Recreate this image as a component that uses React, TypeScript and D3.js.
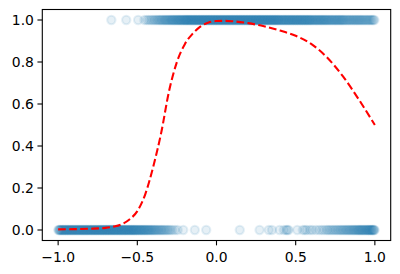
import React from "react";
import * as d3 from "d3";

const xTicks = [-1.0, -0.5, 0.0, 0.5, 1.0];
const yTicks = [0.0, 0.2, 0.4, 0.6, 0.8, 1.0];

// x positions (in thousandths) of observations with label 0
const class0X = [
  -999, -995, -991, -987, -984, -979, -975, -971, -967, -964, -959, -955, -951, -948, -943, -939, -935, -932, -927,
  -923, -919, -916, -911, -907, -903, -900, -895, -891, -887, -884, -879, -875, -871, -868, -863, -859, -855, -852,
  -847, -843, -839, -836, -831, -827, -823, -820, -815, -811, -807, -804, -799, -795, -791, -788, -783, -779, -775,
  -772, -767, -763, -759, -756, -751, -747, -743, -740, -735, -731, -727, -724, -719, -715, -711, -708, -703, -699,
  -695, -692, -687, -683, -679, -676, -671, -667, -663, -660, -655, -651, -647, -644, -639, -635, -631, -628, -623,
  -619, -615, -612, -607, -603, -599, -596, -591, -587, -583, -580, -575, -571, -567, -564, -559, -555, -551, -548,
  -543, -539, -535, -532, -527, -523, -519, -516, -511, -507, -503,
  -498, -494, -489, -485, -480, -476, -471, -467, -462, -457, -453, -448, -443, -438, -433, -428, -423, -418, -412,
  -407, -401, -395, -389, -383, -377, -370, -363, -356, -349, -342, -334, -326, -318, -309, -300,
  -290, -278, -262, -245, -210, -137, -65,
  147, 272, 330, 350, 398, 425, 440, 447, 455, 510, 545, 558, 570, 590, 605, 628, 648, 665, 680, 695, 705, 716, 727,
  737, 747, 757, 766, 775, 784, 792, 800, 808, 816, 823, 830, 837, 844, 851, 858, 864, 870, 876, 882, 888, 894, 899,
  904, 909, 914, 919, 924, 929, 934, 939, 944, 949, 954, 958, 962, 967, 971, 975, 979, 983, 987, 991, 995, 998,
];

// x positions (in thousandths) of observations with label 1
const class1X = [
  -664, -570, -495,
  -455, -440, -428, -416, -405, -395, -386, -377, -369, -361, -354, -347, -340, -333, -327, -321, -315, -309, -303,
  -297, -292, -286, -281, -276, -271, -266, -261, -256, -251, -246, -242, -237, -232, -228, -223, -219, -214, -210,
  -205, -201,
  -197, -193, -189, -186, -181, -177, -173, -170, -165, -161, -157, -154, -149, -145, -141, -138, -133, -129, -125,
  -122, -117, -113, -109, -106, -101, -97, -93, -90, -85, -81, -77, -74, -69, -65, -61, -58, -53, -49, -45, -42, -37,
  -33, -29, -26, -21, -17, -13, -10, -5, -1, 3, 6, 11, 15, 19, 22, 27, 31, 35, 38, 43, 47, 51, 54, 59, 63, 67, 70,
  75, 79, 83, 86, 91, 95, 99, 102, 107, 111, 115, 118, 123, 127, 131, 134, 139, 143, 147, 150, 155, 159, 163, 166,
  171, 175, 179, 182, 187, 191, 195, 198, 203, 207, 211, 214, 219, 223, 227, 230, 235, 239, 243, 246, 251, 255, 259,
  262, 267, 271, 275, 278, 283, 287, 291, 294, 299, 303, 307, 310, 315, 319, 323, 326, 331, 335, 339, 342, 347, 351,
  355, 358, 363, 367, 371, 374, 379, 383, 387, 390, 395, 399,
  404, 408, 413, 417, 422, 426, 430, 435, 439, 444, 448, 453, 457, 461, 466, 470, 475, 479, 483, 488, 492, 497, 501,
  506, 510, 514, 519, 523, 528, 532, 537, 541, 545, 550, 554, 559, 563, 568, 572, 576, 581, 585, 590, 594, 599,
  604, 609, 614, 619, 624, 629, 634, 639, 644, 649, 654, 659, 664, 669, 674, 679, 684, 689, 694, 699, 705, 710, 716,
  721, 727, 732, 738, 743, 749, 754, 760, 765, 771, 776, 782, 787, 793, 798,
  804, 810, 817, 823, 830, 836, 843, 849, 856, 862, 869, 875, 882, 888, 895, 901, 908, 914, 921, 928, 935, 942, 949,
  956, 963, 970, 977, 984, 991, 997,
];

// fitted probability curve
const curveX = [-1.0, -0.9, -0.8, -0.7, -0.65, -0.6, -0.55, -0.5, -0.45, -0.4, -0.35, -0.3, -0.25, -0.2, -0.15, -0.1,
  -0.05, 0.0, 0.05, 0.1, 0.2, 0.3, 0.4, 0.5, 0.6, 0.7, 0.8, 0.9, 1.0];
const curveY = [0.003, 0.004, 0.006, 0.010, 0.016, 0.027, 0.05, 0.09, 0.17, 0.30, 0.46, 0.66, 0.80, 0.885, 0.935, 0.97,
  0.988, 0.995, 0.996, 0.994, 0.985, 0.97, 0.95, 0.925, 0.885, 0.82, 0.73, 0.62, 0.50];

const W = 400;
const H = 274;
const left = 42.3;
const right = 390.7;
const top = 9.5;
const bottom = 240.5;

export default function App() {
  const x = d3.scaleLinear().domain([-1.1, 1.1]).range([left, right]);
  const y = d3.scaleLinear().domain([-0.05, 1.05]).range([bottom, top]);
  const line = d3
    .line<number>()
    .x((_, i) => x(curveX[i]))
    .y((d) => y(d))
    .curve(d3.curveMonotoneX);
  const color = "#1f77b4";
  const alpha = 0.115;
  const font = "DejaVu Sans, sans-serif";
  const fmt = (v: number) => v.toFixed(1).replace("-", "\u2212");
  const dot = (v: number, cls: number, key: string) => (
    <circle key={key} cx={x(v / 1000)} cy={y(cls)} r={4.17} fill={color} fillOpacity={alpha}
      stroke={color} strokeOpacity={alpha} strokeWidth={2.08} />
  );
  return (
    <div style={{ position: "fixed", left: 0, top: 0, width: W, height: H, background: "#fff" }}>
      <svg width={W} height={H} style={{ display: "block" }}>
        <rect x={0} y={0} width={W} height={H} fill="#fff" />
        <g>
          {class0X.map((v, i) => dot(v, 0, "a" + i))}
          {class1X.map((v, i) => dot(v, 1, "b" + i))}
        </g>
        <path d={line(curveY) || ""} fill="none" stroke="red" strokeWidth={2.08} strokeDasharray="7.7,3.33" />
        <rect x={left} y={top} width={right - left} height={bottom - top} fill="none" stroke="#000" strokeWidth={1.1} />
        {xTicks.map((t) => (
          <g key={"x" + t}>
            <line x1={x(t)} x2={x(t)} y1={bottom} y2={bottom + 4.86} stroke="#000" strokeWidth={1.1} />
            <text x={x(t)} y={261.5} textAnchor="middle" fontFamily={font} fontSize={13.9} fill="#000">
              {fmt(t)}
            </text>
          </g>
        ))}
        {yTicks.map((t) => (
          <g key={"y" + t}>
            <line x1={left - 4.86} x2={left} y1={y(t)} y2={y(t)} stroke="#000" strokeWidth={1.1} />
            <text x={left - 8.4} y={y(t)} dy="0.36em" textAnchor="end" fontFamily={font} fontSize={13.9} fill="#000">
              {fmt(t)}
            </text>
          </g>
        ))}
      </svg>
    </div>
  );
}
